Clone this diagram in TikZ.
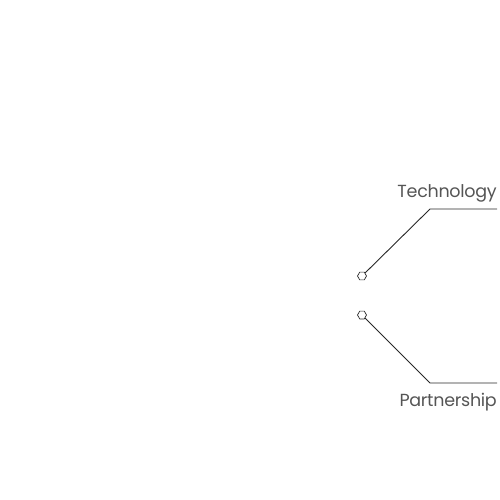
\documentclass[tikz,border=0pt]{standalone}
\usepackage{fontspec}
\setmainfont{Poppins}
\usetikzlibrary{shapes.geometric}
\definecolor{linegray}{RGB}{40,40,40}
\definecolor{textgray}{RGB}{85,85,85}

\begin{document}
\begin{tikzpicture}[x=1pt,y=-1pt,
  hexdot/.style={regular polygon,regular polygon sides=6,draw=linegray,line width=0.7pt,fill=white,inner sep=0pt,minimum size=9pt},
  leader/.style={draw=linegray,line width=0.9pt},
  branchlabel/.style={text=textgray,font=\fontsize{17.5}{19}\selectfont\addfontfeature{LetterSpace=-1.5},anchor=base east,inner sep=0pt}]
  \useasboundingbox (0,0) rectangle (500,500);

  \node[hexdot] (techdot) at (362,276) {};
  \coordinate (techknee) at (430,209);
  \coordinate (techend) at (497,209);
  \node[branchlabel] (techlabel) at (497,197) {Technology};

  \node[hexdot] (partdot) at (362,315) {};
  \coordinate (partknee) at (430,383);
  \coordinate (partend) at (497,383);
  \node[branchlabel] (partlabel) at (497,406) {Partnership};

  \draw[leader] (techdot) -- (techknee) -- (techend);
  \draw[leader] (partdot) -- (partknee) -- (partend);
\end{tikzpicture}
\end{document}
